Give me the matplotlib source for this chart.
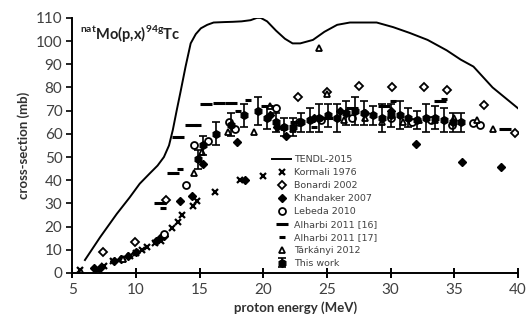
import matplotlib
matplotlib.use('Agg')
import matplotlib.pyplot as plt

plt.rcParams['font.family'] = ['Lato', 'DejaVu Sans']

# TENDL-2015 evaluation
tendl_e = [6.0, 7.2, 8.5, 9.5, 10.3, 11.1, 11.7, 12.2, 12.6, 12.9, 13.2, 13.5,
           13.9, 14.3, 14.7, 15.1, 15.6, 16.1, 17.0, 17.6, 18.3, 19.0, 19.5,
           19.8, 20.3, 21.0, 21.7, 22.3, 22.9, 23.9, 24.8, 25.8, 26.8, 28.0,
           28.9, 30.2, 31.5, 32.9, 34.4, 35.5, 36.5, 38.0, 40.0]
tendl_xs = [5.6, 15.5, 25.5, 32.5, 38.5, 43, 46.3, 50, 55, 61.7, 70, 78,
            89, 99, 103, 105.5, 107, 108, 108.2, 108.3, 108.5, 109, 110,
            110, 108.5, 104.5, 101, 99, 99, 100.5, 104, 107, 108, 108,
            108, 106, 103.5, 100.5, 96, 92, 89, 80, 71]

kormali_e = [5.6, 7.0, 7.5, 8.2, 9.0, 9.5, 10.0, 10.5, 10.9, 11.5, 12.0,
             12.8, 13.3, 13.6, 14.5, 14.8, 16.2, 18.2, 20.0]
kormali_xs = [1.3, 1.5, 3, 5, 6, 7.5, 8.5, 10, 11, 13, 14,
              19.5, 22, 25, 29, 31, 35, 40, 42]

bonardi_e = [7.4, 9.9, 12.4, 22.7, 25.0, 27.5, 30.1, 32.6, 34.4, 37.3, 39.8]
bonardi_xs = [9, 13.4, 31.5, 76, 78, 80.7, 80, 80, 79, 72.5, 60.5]

khandaker_e = [6.7, 7.2, 8.3, 8.8, 9.4, 10.0, 11.6, 11.9, 12.2, 13.5, 14.4,
               15.3, 17.9, 18.6, 20.5, 21.1, 21.8, 24.0, 26.0, 28.0, 30.0,
               32.0, 35.6, 38.7]
khandaker_xs = [2, 2, 5, 6, 7.5, 9, 14, 15, 16, 31, 33,
                47, 56.5, 40, 68, 63, 59, 67, 70, 69, 70,
                55.6, 48, 45.7]

lebeda_e = [12.2, 13.9, 14.6, 15.7, 17.3, 17.8, 21.0, 22.8, 24.5, 27.0,
            30.0, 31.7, 33.2, 34.8, 36.5, 37.0]
lebeda_xs = [17, 38, 55, 57, 65, 62, 71, 65, 66, 67,
             67, 65, 66, 64, 64.6, 64]

alharbi16_e = [11.9, 12.9, 13.3, 14.3, 15.5, 16.5, 17.5, 20.3, 22.6, 25.0,
               27.0, 29.5, 33.9, 39.0]
alharbi16_xs = [30, 43, 58.5, 64, 73, 73.3, 73.5, 72, 65, 67,
                71, 72, 74, 62]

alharbi17_e = [12.1, 13.5, 14.9, 18.0, 18.8, 24.0, 30.2, 34.2]
alharbi17_xs = [28, 45, 64, 70, 74.6, 63, 74, 75]

tarkanyi_e = [5.7, 9.0, 14.6, 15.2, 17.2, 19.3, 20.5, 21.6, 22.3, 24.4,
              25.0, 26.3, 28.0, 29.3, 31.0, 32.2, 33.5, 35.0, 36.8, 38.0]
tarkanyi_xs = [0.3, 6, 43, 52, 61, 61, 72, 63, 62, 97,
               77, 66, 67, 65, 65, 66, 66, 67, 66, 62]

this_e = [14.9, 15.3, 16.3, 17.5, 18.5, 19.6, 20.3, 21.0, 21.6, 22.3,
          23.0, 23.7, 24.4, 25.1, 25.8, 26.5, 27.2, 27.9, 28.6, 29.3,
          30.0, 30.7, 31.4, 32.1, 32.8, 33.5, 34.2, 34.9, 35.5]
this_xs = [49, 55, 60, 64, 68, 70, 67, 65, 63, 63,
           65, 66, 67, 68, 67, 69, 70, 69, 68, 67,
           68, 68, 67, 66, 67, 67, 66, 65, 65]
this_err = [4, 4, 5, 5, 5, 6, 5, 4, 4, 4,
            4, 5, 6, 5, 6, 5, 6, 5, 4, 6,
            5, 6, 4, 4, 6, 5, 5, 4, 4]

fig = plt.figure(figsize=(5.27, 3.25), dpi=100)
ax = fig.add_axes([0.137, 0.16, 0.846, 0.785])

ax.plot(tendl_e, tendl_xs, color='black', lw=1.4, label='TENDL-2015', zorder=2)
ax.plot(kormali_e, kormali_xs, 'x', color='black', ms=5, mew=1.6,
        label='Kormali 1976')
ax.plot(bonardi_e, bonardi_xs, 'D', mfc='white', mec='black', ms=4.5, mew=1.3,
        label='Bonardi 2002')
ax.plot(khandaker_e, khandaker_xs, 'D', color='black', ms=4.5,
        label='Khandaker 2007')
ax.plot(lebeda_e, lebeda_xs, 'o', mfc='white', mec='black', ms=5, mew=1.3,
        label='Lebeda 2010')
ax.plot(alharbi16_e, alharbi16_xs, '_', color='black', ms=8, mew=2.2,
        label='Alharbi 2011 [16]')
ax.plot(alharbi17_e, alharbi17_xs, '_', color='black', ms=5, mew=2.2,
        label='Alharbi 2011 [17]')
ax.plot(tarkanyi_e, tarkanyi_xs, '^', mfc='white', mec='black', ms=5, mew=1.3,
        label='Tárkányi 2012')
ax.errorbar(this_e, this_xs, yerr=this_err, fmt='h', color='black', ms=5.5,
            capsize=3, elinewidth=1.2, capthick=1.2, label='This work')

ax.set_xlim(5, 40)
ax.set_ylim(0, 110)
ax.set_xticks(range(5, 41, 5))
ax.set_yticks(range(0, 111, 10))
for s in ('top', 'right'):
    ax.spines[s].set_visible(False)
for s in ('left', 'bottom'):
    ax.spines[s].set_linewidth(1.4)
ax.tick_params(axis='x', direction='inout', length=7, width=1.4,
               labelsize=11, labelcolor='#404040', pad=4)
ax.tick_params(axis='y', direction='out', length=4, width=1.2,
               labelsize=11, labelcolor='#404040', pad=3)

ax.set_xlabel('proton energy (MeV)', fontsize=9.5, fontweight='bold',
              color='#303030', labelpad=3)
ax.set_ylabel('cross-section (mb)', fontsize=9.5, fontweight='bold',
              color='#303030', labelpad=4)

ax.text(0.018, 0.94, r'$^{\mathregular{nat}}$Mo(p,x)$^{\mathregular{94g}}$Tc',
        transform=ax.transAxes, fontsize=10.5, fontweight='bold',
        color='#202020', va='center', ha='left')

leg = ax.legend(loc='upper left', bbox_to_anchor=(0.44, 0.477), frameon=False,
                prop={'family': 'DejaVu Sans', 'size': 6.8},
                labelspacing=0.42, handlelength=2.0,
                handletextpad=0.3, borderaxespad=0)
for t in leg.get_texts():
    t.set_color('#404040')

fig.savefig('out.png', dpi=100)
